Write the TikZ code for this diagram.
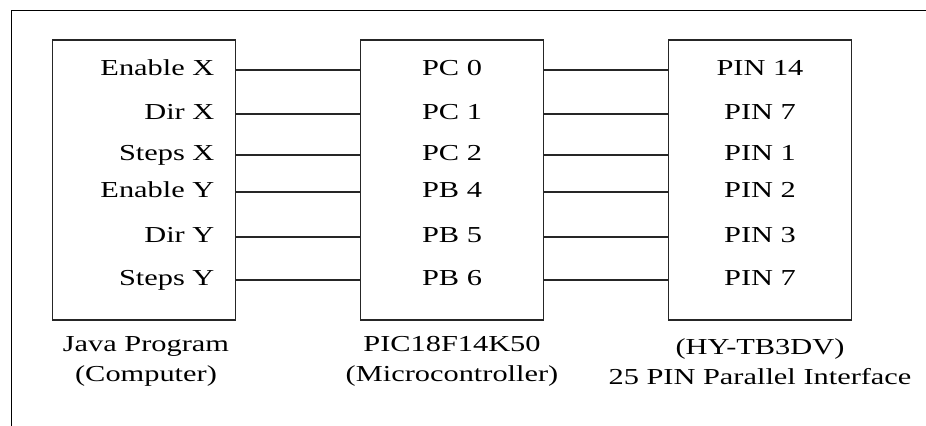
\documentclass[tikz,border=0pt]{standalone}
\usepackage{fontspec}
\setmainfont{Liberation Serif}[FakeStretch=1.33]
\begin{document}
\begin{tikzpicture}[line width=0.7pt,
  every node/.style={font=\fontsize{13}{17}\selectfont,text=black},
  unit/.style={draw=black!85,minimum width=3.66cm,minimum height=5.6cm},
  sig/.style={inner sep=0pt}]
\useasboundingbox (0,0) rectangle (18.52,-8.52);
% frame
\draw[line width=1.1pt] (0.23,-8.52) -- (0.23,-0.21) -- (18.52,-0.21);
% the three units
\node[unit] (pc) at (2.88,-3.6) {};
\node[unit] (mcu) at (9.04,-3.6) {};
\node[unit] (lpt) at (15.2,-3.6) {};
% rows
\coordinate (r1) at (0,-1.40); \coordinate (r2) at (0,-2.28);
\coordinate (r3) at (0,-3.10); \coordinate (r4) at (0,-3.84);
\coordinate (r5) at (0,-4.74); \coordinate (r6) at (0,-5.60);
% computer side
\node[sig,anchor=base east] (enx) at (4.30,-1.52) {Enable X};
\node[sig,anchor=base east] (dirx) at (4.30,-2.40) {Dir X};
\node[sig,anchor=base east] (stx) at (4.30,-3.22) {Steps X};
\node[sig,anchor=base east] (eny) at (4.30,-3.96) {Enable Y};
\node[sig,anchor=base east] (diry) at (4.30,-4.86) {Dir Y};
\node[sig,anchor=base east] (sty) at (4.30,-5.72) {Steps Y};
% microcontroller ports
\node[sig,anchor=base] (pc0) at (9.04,-1.52) {PC 0};
\node[sig,anchor=base] (pc1) at (9.04,-2.40) {PC 1};
\node[sig,anchor=base] (pc2) at (9.04,-3.22) {PC 2};
\node[sig,anchor=base] (pb4) at (9.04,-3.96) {PB 4};
\node[sig,anchor=base] (pb5) at (9.04,-4.86) {PB 5};
\node[sig,anchor=base] (pb6) at (9.04,-5.72) {PB 6};
% parallel port pins
\node[sig,anchor=base] (pin14) at (15.2,-1.52) {PIN 14};
\node[sig,anchor=base] (pin7a) at (15.2,-2.40) {PIN 7};
\node[sig,anchor=base] (pin1) at (15.2,-3.22) {PIN 1};
\node[sig,anchor=base] (pin2) at (15.2,-3.96) {PIN 2};
\node[sig,anchor=base] (pin3) at (15.2,-4.86) {PIN 3};
\node[sig,anchor=base] (pin7b) at (15.2,-5.72) {PIN 7};
% wires
\foreach \r in {r1,r2,r3,r4,r5,r6} {
  \draw[black!85] (pc.east |- \r) -- (mcu.west |- \r);
  \draw[black!85] (mcu.east |- \r) -- (lpt.west |- \r);
}
% captions
\node[align=center] (pccap) at (2.92,-7.23) {Java Program\\(Computer)};
\node[align=center] (mcucap) at (9.04,-7.23) {PIC18F14K50\\(Microcontroller)};
\node[align=center] (lptcap) at (15.2,-7.23) {(HY-TB3DV)\\25 PIN Parallel Interface};
\end{tikzpicture}
\end{document}
